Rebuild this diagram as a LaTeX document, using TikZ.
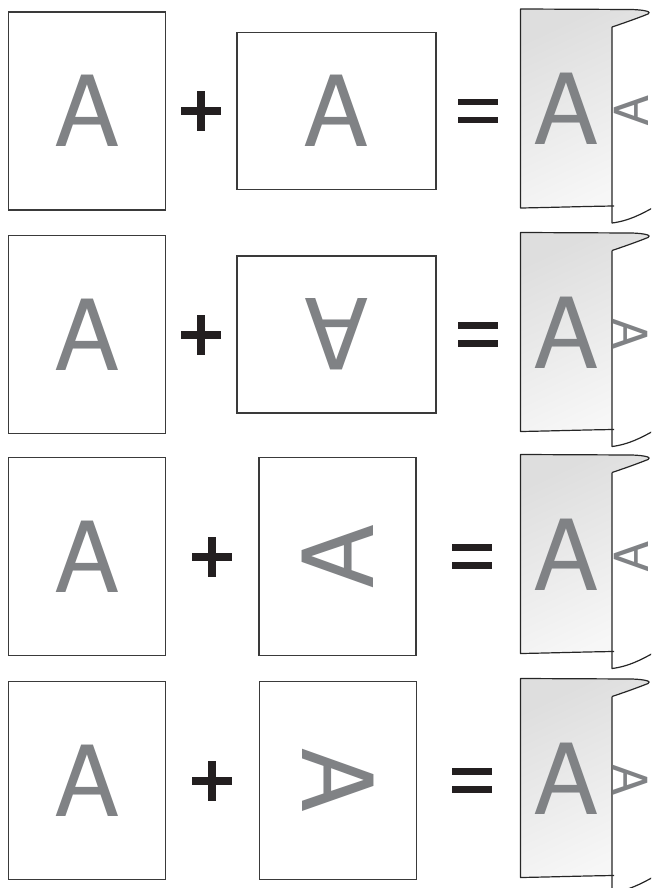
\documentclass[tikz,border=0pt]{standalone}
\usepackage{fontspec}
\usepackage{xcolor}
\usepackage{tikz}
\usetikzlibrary{positioning}
\newfontfamily\glyphfont{TeX Gyre Heros}
\definecolor{glyphgray}{HTML}{808285}
\definecolor{framegray}{HTML}{3A3A3A}
\definecolor{signblack}{HTML}{231F20}

\begin{document}
\begin{tikzpicture}[x=1pt, y=-1pt,
portrait/.style={draw=framegray, line width=1.3pt, fill=white, minimum width=157pt, minimum height=198pt, inner sep=0pt},
landscape/.style={draw=framegray, line width=1.3pt, fill=white, minimum width=199pt, minimum height=157pt, inner sep=0pt},
glyph/.style={text=glyphgray, inner sep=0pt, font=\glyphfont\fontsize{98}{98}\selectfont},
smallglyph/.style={text=glyphgray, inner sep=0pt, font=\glyphfont\fontsize{47}{47}\selectfont},
sheet/.style={draw=black!85, line width=1.2pt, line join=round},
plussign/.pic={\fill[signblack] (-20,-4) rectangle (20,4); \fill[signblack] (-4,-20) rectangle (4,20);},
eqsign/.pic={\fill[signblack] (-20,-12.25) rectangle (20,-5.75); \fill[signblack] (-20,5.75) rectangle (20,12.25);}
]
\useasboundingbox (0,0) rectangle (651,888);
\clip (0,0) rectangle (651,888);

% row / centre y / middle sheet / its x / letter turn / plus x / equals x / back letter turn
\foreach \r/\cy/\shp/\mx/\rot/\px/\ex/\brot in {
  1/111/landscape/336.5/0/201/478/90,
  2/334.5/landscape/336.5/180/201/478/-90,
  3/556.5/portrait/337.5/90/212/472/90,
  4/780.5/portrait/338/-90/212/472/-90}
{
  % first sheet
  \node[portrait] (src\r) at (87,\cy) {};
  \node[glyph] (srcA\r) at (src\r.center) {A};
  \pic at (\px,\cy) {plussign};
  % second sheet
  \node[\shp] (add\r) at (\mx,\cy) {};
  \node[glyph, rotate=\rot] (addA\r) at (add\r.center) {A};
  \pic at (\ex,\cy) {eqsign};
  % folded result: front page with the curl on top
  \shade[top color=black!13, bottom color=black!3, shading angle=25]
    (520.5,\cy-102) -- (632,\cy-101.5) .. controls (646,\cy-101) and (652,\cy-99) .. (648,\cy-97)
    .. controls (638,\cy-93) and (624,\cy-88) .. (612,\cy-84) -- (612,\cy+95)
    .. controls (580,\cy+95.5) and (550,\cy+96.5) .. (520.5,\cy+97) -- cycle;
  \draw[sheet] (612,\cy-84) .. controls (624,\cy-88) and (638,\cy-93) .. (648,\cy-97)
    .. controls (652,\cy-99) and (646,\cy-101) .. (632,\cy-101.5) -- (520.5,\cy-102)
    -- (520.5,\cy+97) .. controls (550,\cy+96.5) and (580,\cy+95.5) .. (614,\cy+95);
  \draw[sheet] (612,\cy-84) -- (612,\cy+112)
    .. controls (628,\cy+110) and (640,\cy+104) .. (656,\cy+95);
  \node[glyph] (resA\r) at (566.5,\cy-2) {A};
  \node[smallglyph, rotate=\brot] (backA\r) at (631,\cy) {A};
}
\end{tikzpicture}
\end{document}
